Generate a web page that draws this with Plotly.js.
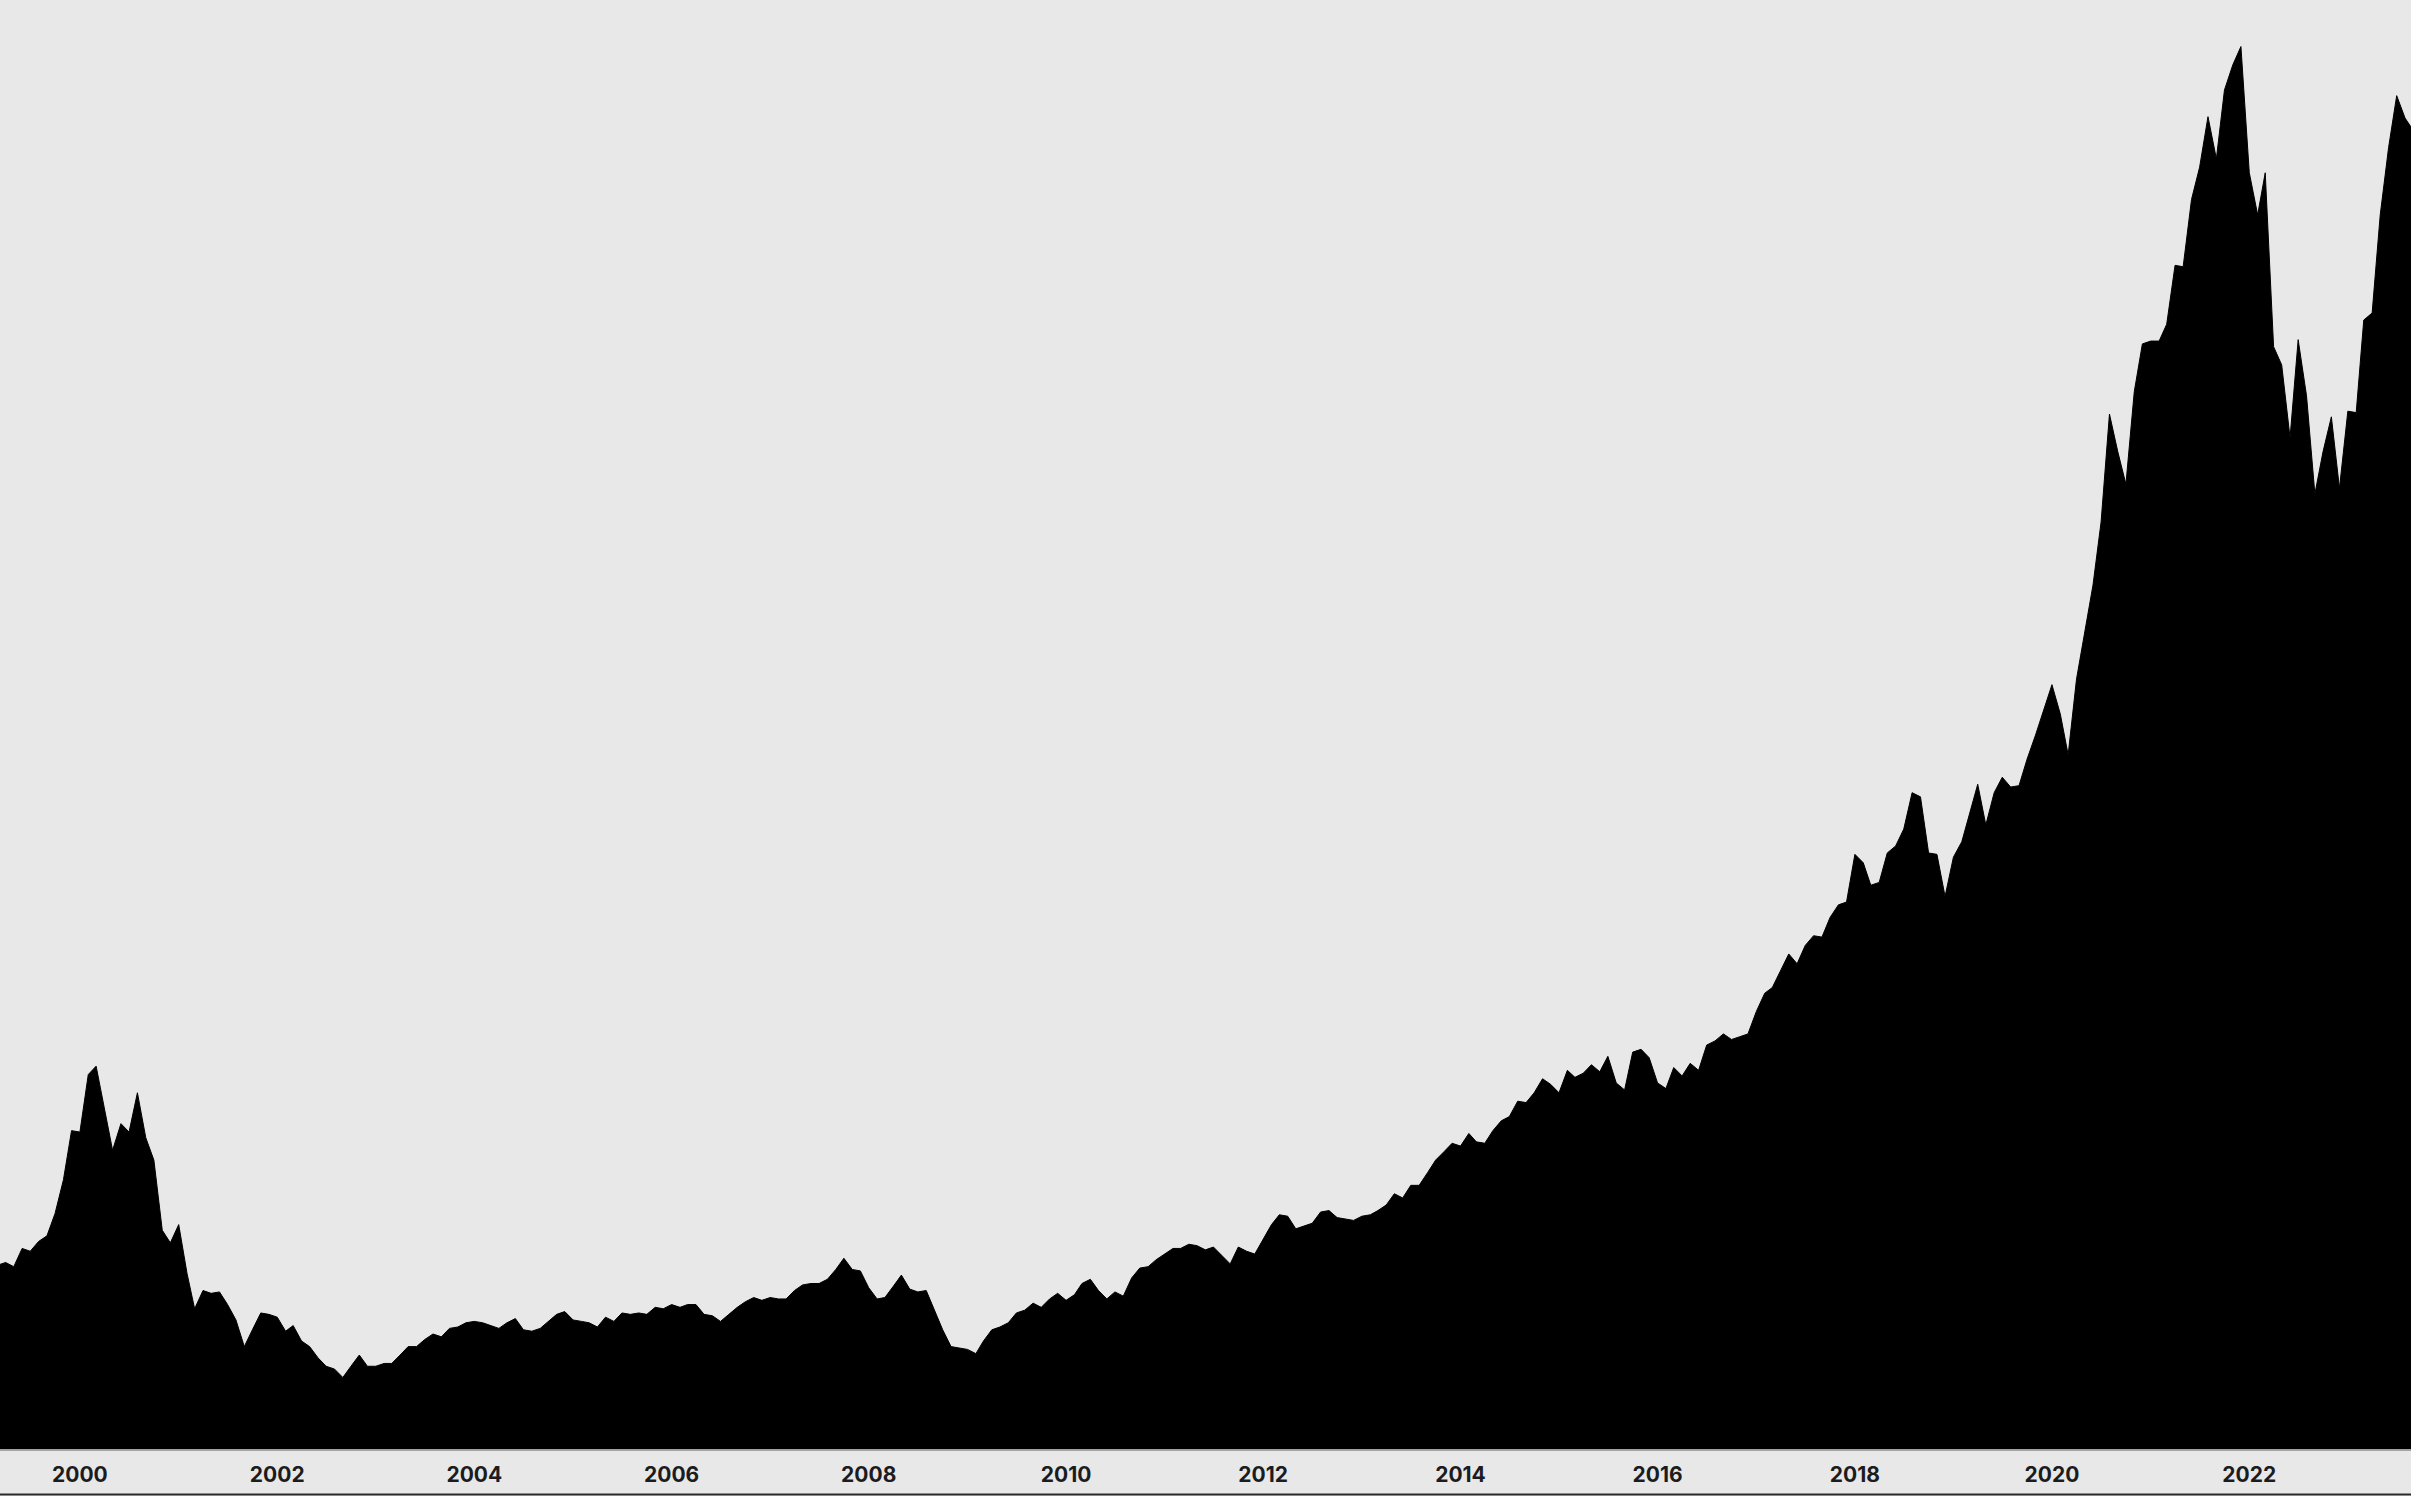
<!DOCTYPE html>
<html>
<head>
<meta charset="utf-8">
<script src="https://cdn.plot.ly/plotly-3.0.1.min.js"></script>
<style>
  html, body { margin: 0; padding: 0; background: #e8e8e8; overflow: hidden; }
  #chart { width: 2411px; height: 1496px; }
</style>
</head>
<body>
<div id="chart"></div>
<script>
// First month of the monthly series
const startYear = 1999;
const startMonth = 3;

// Monthly index values (peak = 100), Mar 1999 .. Sep 2023
const values1999 = [13.1, 13.3, 13.0, 14.3, 14.1, 14.8, 15.2, 16.8, 19.2, 22.7];
const values2000 = [22.6, 26.7, 27.3, 24.2, 21.3, 23.2, 22.6, 25.4, 22.2, 20.6, 15.6, 14.7];
const values2001 = [16.0, 12.5, 10.0, 11.3, 11.1, 11.2, 10.3, 9.2, 7.3, 8.5, 9.7, 9.6];
const values2002 = [9.4, 8.4, 8.8, 7.7, 7.3, 6.5, 5.9, 5.7, 5.1, 5.9, 6.7, 5.9];
const values2003 = [5.9, 6.1, 6.1, 6.7, 7.3, 7.3, 7.8, 8.2, 8.0, 8.6, 8.7, 9.0];
const values2004 = [9.1, 9.0, 8.8, 8.6, 9.0, 9.3, 8.5, 8.4, 8.6, 9.1, 9.6, 9.8];
const values2005 = [9.2, 9.1, 9.0, 8.7, 9.4, 9.1, 9.7, 9.6, 9.7, 9.6, 10.1, 10.0];
const values2006 = [10.3, 10.1, 10.3, 10.3, 9.6, 9.5, 9.1, 9.6, 10.1, 10.5, 10.8, 10.6];
const values2007 = [10.8, 10.7, 10.7, 11.3, 11.7, 11.8, 11.8, 12.1, 12.8, 13.6, 12.8, 12.7];
const values2008 = [11.5, 10.7, 10.8, 11.6, 12.4, 11.4, 11.2, 11.3, 9.9, 8.5, 7.3, 7.2];
const values2009 = [7.1, 6.8, 7.7, 8.5, 8.7, 9.0, 9.7, 9.9, 10.4, 10.1, 10.7, 11.1];
const values2010 = [10.6, 11.0, 11.8, 12.1, 11.3, 10.7, 11.2, 10.9, 12.2, 12.9, 13.0, 13.5];
const values2011 = [13.9, 14.3, 14.3, 14.6, 14.5, 14.2, 14.4, 13.8, 13.2, 14.4, 14.1, 13.9];
const values2012 = [15.0, 16.0, 16.7, 16.6, 15.7, 15.9, 16.1, 16.9, 17.0, 16.5, 16.4, 16.3];
const values2013 = [16.6, 16.7, 17.0, 17.4, 18.2, 17.9, 18.8, 18.8, 19.7, 20.6, 21.2, 21.8];
const values2014 = [21.6, 22.5, 21.9, 21.8, 22.7, 23.4, 23.7, 24.8, 24.7, 25.4, 26.4, 26.0];
const values2015 = [25.4, 27.0, 26.5, 26.8, 27.4, 26.9, 28.0, 26.1, 25.6, 28.3, 28.5, 27.9];
const values2016 = [26.1, 25.7, 27.2, 26.6, 27.5, 27.0, 28.8, 29.1, 29.6, 29.2, 29.4, 29.6];
const values2017 = [31.2, 32.5, 32.9, 34.1, 35.3, 34.6, 35.9, 36.6, 36.5, 37.9, 38.8, 39.0];
const values2018 = [42.4, 41.8, 40.2, 40.4, 42.5, 43.0, 44.2, 46.8, 46.5, 42.5, 42.4, 39.4];
const values2019 = [42.2, 43.3, 45.3, 47.4, 44.5, 46.8, 47.9, 47.2, 47.3, 49.2, 50.9, 52.7];
const values2020 = [54.5, 52.4, 49.5, 54.9, 58.3, 61.6, 66.1, 73.8, 71.1, 68.8, 75.4, 78.8];
const values2021 = [79.0, 79.0, 80.2, 84.4, 84.3, 89.1, 91.4, 95.0, 92.0, 96.9, 98.7, 100];
const values2022 = [91.0, 88.0, 91.0, 78.6, 77.3, 72.1, 79.1, 75.1, 68.1, 71.1, 73.6, 68.5];
const values2023 = [74.0, 73.9, 80.5, 81.0, 88.0, 92.8, 96.5, 94.9, 94.0];

// Axis tick labels
const tickYears = ['2000','2002','2004','2006','2008','2010','2012','2014','2016','2018','2020','2022'];

const values = [].concat(values1999, values2000, values2001, values2002, values2003, values2004,
  values2005, values2006, values2007, values2008, values2009, values2010, values2011,
  values2012, values2013, values2014, values2015, values2016, values2017, values2018,
  values2019, values2020, values2021, values2022, values2023);

const dates = values.map((v, i) => {
  const m = startMonth - 1 + i;
  const y = startYear + Math.floor(m / 12);
  const mm = (m % 12) + 1;
  return y + '-' + String(mm).padStart(2, '0') + '-01';
});

const trace = {
  type: 'scatter',
  mode: 'lines',
  x: dates,
  y: values,
  fill: 'tozeroy',
  fillcolor: '#000000',
  line: { color: '#000000', width: 1, shape: 'linear' },
  hoverinfo: 'skip'
};

const layout = {
  width: 2411,
  height: 1496,
  margin: { l: 0, r: 0, t: 0, b: 47, pad: 0 },
  paper_bgcolor: '#e8e8e8',
  plot_bgcolor: '#e8e8e8',
  showlegend: false,
  xaxis: {
    type: 'date',
    range: ['1999-03-11', '2023-08-23'],
    tickvals: tickYears.map(y => y + '-01-01'),
    ticktext: tickYears,
    ticks: '',
    showgrid: false,
    zeroline: false,
    showline: true,
    linecolor: '#a3a3a3',
    linewidth: 2,
    tickfont: { family: 'Inter, "Noto Sans", sans-serif', size: 21, color: '#1c1c1e', weight: 700 },
    ticklabelstandoff: 6,
    fixedrange: true
  },
  yaxis: {
    range: [0, 103.32],
    visible: false,
    showgrid: false,
    zeroline: false,
    fixedrange: true
  },
  shapes: [{
    type: 'line',
    xref: 'paper', yref: 'paper',
    x0: 0, x1: 1,
    y0: -0.0314, y1: -0.0314,
    line: { color: '#2a2a2a', width: 2 }
  }]
};

Plotly.newPlot('chart', [trace], layout, { displayModeBar: false, staticPlot: true });
</script>
</body>
</html>
